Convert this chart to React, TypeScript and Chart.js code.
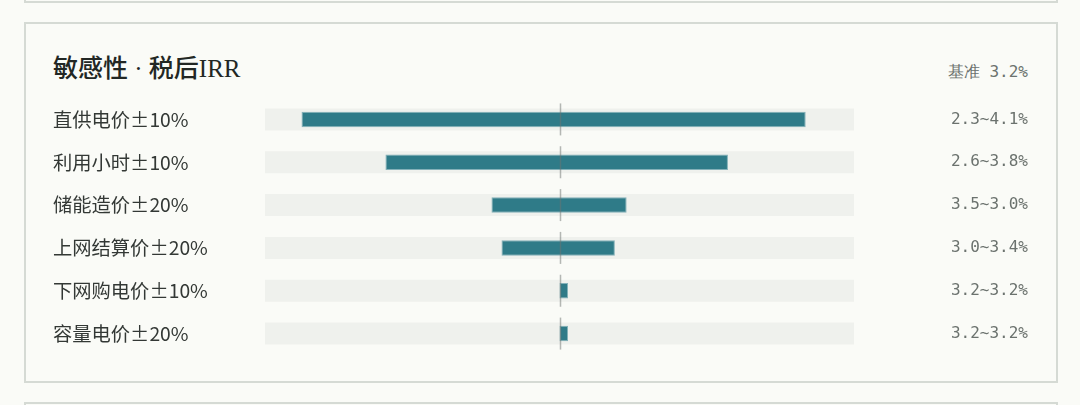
import React, { useEffect, useRef } from "react";
import { Chart, registerables } from "chart.js";

Chart.register(...registerables);

const categories = ["直供电价±10%", "利用小时±10%", "储能造价±20%", "上网结算价±20%", "下网购电价±10%", "容量电价±20%"];
const lowValues = [2.324, 2.609, 2.969, 3.003, 3.2, 3.2];
const highValues = [4.036, 3.772, 3.428, 3.388, 3.229, 3.229];
const rangeLabels = ["2.3~4.1%", "2.6~3.8%", "3.5~3.0%", "3.0~3.4%", "3.2~3.2%", "3.2~3.2%"];
const baseValue = 3.2;
const axisMin = 2.2;
const axisMax = 4.2;
const titleText = "敏感性 · 税后IRR";
const baseLabel = "基准 3.2%";

const TEAL = "#2f7b88";
const TRACK = "#eff1ed";
const BG = "#fafbf7";
const BORDER = "#d5dad4";

const centerLinePlugin = {
  id: "centerLine",
  afterDatasetsDraw(chart: any) {
    const { ctx } = chart;
    const xs = chart.scales.x;
    const ys = chart.scales.y;
    const x = Math.round(xs.getPixelForValue(baseValue)) + 0.5;
    ctx.save();
    ctx.strokeStyle = "rgba(110,115,112,0.5)";
    ctx.lineWidth = 1.5;
    categories.forEach((_, i) => {
      const yc = ys.getPixelForValue(i);
      ctx.beginPath();
      ctx.moveTo(x, yc - 16);
      ctx.lineTo(x, yc + 16);
      ctx.stroke();
    });
    ctx.restore();
  },
};

export default function App() {
  const ref = useRef<HTMLCanvasElement | null>(null);
  useEffect(() => {
    if (!ref.current) return;
    const chart = new Chart(ref.current, {
      type: "bar",
      data: {
        labels: categories,
        datasets: [
          {
            data: categories.map((_, i) => [lowValues[i], highValues[i]]) as any,
            backgroundColor: TEAL,
            borderColor: "rgba(120,170,178,0.9)",
            borderWidth: 1,
            borderSkipped: false,
            grouped: false,
            categoryPercentage: 1,
            barPercentage: 0.36,
            yAxisID: "y",
          },
          {
            data: categories.map(() => [axisMin, axisMax]) as any,
            backgroundColor: TRACK,
            borderWidth: 0,
            grouped: false,
            categoryPercentage: 1,
            barPercentage: 0.515,
            yAxisID: "y",
          },
        ],
      },
      options: {
        indexAxis: "y",
        animation: false,
        responsive: false,
        maintainAspectRatio: false,
        layout: { padding: { left: 53, right: 52, top: 98, bottom: 50 } },
        plugins: { legend: { display: false }, tooltip: { enabled: false }, title: { display: false } },
        scales: {
          x: { type: "linear", min: axisMin, max: axisMax, display: false },
          y: {
            type: "category",
            position: "left",
            offset: true,
            grid: { display: false },
            border: { display: false },
            ticks: {
              crossAlign: "far",
              color: "#333835",
              font: { family: "'Noto Sans CJK SC', 'Noto Sans', sans-serif", size: 19.3 },
              padding: 0,
            },
            afterFit: (s: any) => { s.width = 212; },
          },
          y2: {
            type: "category",
            position: "right",
            labels: rangeLabels,
            offset: true,
            grid: { display: false },
            border: { display: false },
            ticks: {
              crossAlign: "far",
              color: "#6b726e",
              font: { family: "'DejaVu Sans Mono', monospace", size: 16 },
              padding: 0,
            },
            afterFit: (s: any) => { s.width = 174; },
          },
        },
      },
      plugins: [centerLinePlugin],
    });
    return () => chart.destroy();
  }, []);

  return (
    <div style={{ position: "fixed", left: 0, top: 0, width: 1080, height: 405, background: BG, overflow: "hidden" }}>
      <div style={{ position: "absolute", left: 24, top: -37, width: 1034, height: 40, border: `2px solid ${BORDER}`, boxSizing: "border-box" }} />
      <div style={{ position: "absolute", left: 24, top: 22, width: 1034, height: 361, border: `2px solid ${BORDER}`, boxSizing: "border-box" }} />
      <div style={{ position: "absolute", left: 24, top: 402, width: 1034, height: 60, border: `2px solid ${BORDER}`, boxSizing: "border-box" }} />
      <div style={{ position: "absolute", left: 53, top: 51, fontFamily: "'Liberation Serif', 'DejaVu Serif', 'Noto Sans CJK SC', serif", fontSize: 25, fontWeight: 500, color: "#222724", whiteSpace: "nowrap", lineHeight: "36px" }}>{titleText}</div>
      <div style={{ position: "absolute", right: 52, top: 61, fontFamily: "'DejaVu Sans Mono', monospace", fontSize: 16, color: "#6b726e", whiteSpace: "pre", lineHeight: "22px" }}>{baseLabel}</div>
      <canvas ref={ref} width={1080} height={405} style={{ position: "absolute", left: 0, top: 0, width: 1080, height: 405 }} />
    </div>
  );
}
